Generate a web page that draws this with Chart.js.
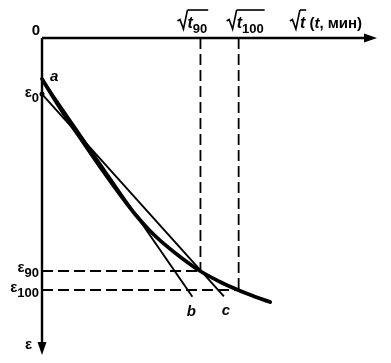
<!DOCTYPE html>
<html>
<head>
<meta charset="utf-8">
<script src="https://cdn.jsdelivr.net/npm/chart.js@4"></script>
<style>
  html, body { margin: 0; padding: 0; background: #fff; }
</style>
</head>
<body>
<canvas id="consolidation-chart" width="391" height="363"></canvas>
<script>
// x = sqrt(t), y = strain eps (grows downwards); units
const curveX = [0, 0.48, 0.99, 1.73, 2.33, 2.78, 3.22, 3.67, 4.12, 4.72, 5.31, 5.85, 6.36, 6.81];
const curveY = [1.29, 2.11, 2.92, 4.06, 4.94, 5.56, 6.08, 6.52, 6.90, 7.35, 7.69, 7.95, 8.16, 8.33];
const lineBX = [0, 4.49];
const lineBY = [1.29, 8.16];
const lineCX = [0, 5.43];
const lineCY = [1.77, 8.15];
const sqrtT90 = 4.73;
const sqrtT100 = 5.87;
const eps0 = 1.77;
const eps90 = 7.35;
const eps100 = 7.95;

const pts = (xs, ys) => xs.map((x, i) => ({ x: x, y: ys[i] }));

const FONT = '"Liberation Sans", Arial, sans-serif';

// draws  √t  with overline, optional subscript; returns end x
function drawRoot(ctx, x, base, sub) {
  ctx.save();
  ctx.lineWidth = 1.6;
  ctx.strokeStyle = '#000';
  ctx.beginPath();
  ctx.moveTo(x, base - 7);
  ctx.lineTo(x + 2.5, base - 8.5);
  ctx.lineTo(x + 6, base + 1);
  ctx.lineTo(x + 10, base - 18);
  ctx.stroke();
  ctx.font = 'italic bold 16px ' + FONT;
  ctx.textAlign = 'left';
  ctx.textBaseline = 'alphabetic';
  ctx.fillText('t', x + 10, base);
  let end = x + 10 + ctx.measureText('t').width;
  if (sub) {
    ctx.font = 'bold 13px ' + FONT;
    ctx.fillText(sub, end, base + 5);
    end += ctx.measureText(sub).width;
  }
  ctx.beginPath();
  ctx.moveTo(x + 10, base - 18);
  ctx.lineTo(end + 1, base - 18);
  ctx.stroke();
  ctx.restore();
  return end;
}

function epsLabel(ctx, right, base, sub) {
  ctx.font = 'bold 13px ' + FONT;
  const sw = ctx.measureText(sub).width;
  ctx.fillText(sub, right - sw, base + 5);
  ctx.font = 'bold 15px ' + FONT;
  const ew = ctx.measureText('ε').width;
  ctx.fillText('ε', right - sw - ew, base);
}

const axesPlugin = {
  id: 'axesPlugin',
  afterDatasetsDraw(chart) {
    const ctx = chart.ctx;
    const xs = chart.scales.x;
    const ys = chart.scales.y;
    const x0 = xs.getPixelForValue(0);
    const y0 = ys.getPixelForValue(0);
    const xEnd = xs.getPixelForValue(10);
    const yEnd = ys.getPixelForValue(10);

    ctx.save();
    ctx.strokeStyle = '#000';
    ctx.fillStyle = '#000';
    ctx.lineWidth = 2.4;
    ctx.beginPath();
    ctx.moveTo(x0, y0);
    ctx.lineTo(xEnd - 8, y0);
    ctx.moveTo(x0, y0);
    ctx.lineTo(x0, yEnd - 8);
    ctx.stroke();
    // arrow heads
    ctx.beginPath();
    ctx.moveTo(xEnd, y0);
    ctx.lineTo(xEnd - 13, y0 - 4.5);
    ctx.lineTo(xEnd - 13, y0 + 4.5);
    ctx.closePath();
    ctx.fill();
    ctx.beginPath();
    ctx.moveTo(x0, yEnd);
    ctx.lineTo(x0 - 4.5, yEnd - 13);
    ctx.lineTo(x0 + 4.5, yEnd - 13);
    ctx.closePath();
    ctx.fill();

    ctx.textBaseline = 'alphabetic';
    ctx.font = 'bold 15px ' + FONT;
    ctx.textAlign = 'center';
    ctx.fillText('0', x0 - 6, y0 - 3);
    ctx.textAlign = 'left';

    const p90 = xs.getPixelForValue(sqrtT90);
    const p100 = xs.getPixelForValue(sqrtT100);
    drawRoot(ctx, p90 - 23, y0 - 10, '90');
    drawRoot(ctx, p100 - 12, y0 - 10, '100');
    const e = drawRoot(ctx, xs.getPixelForValue(7.4), y0 - 10, null);
    ctx.font = 'bold 15px ' + FONT;
    ctx.fillText(' (', e, y0 - 10);
    let cx = e + ctx.measureText(' (').width;
    ctx.font = 'italic bold 15px ' + FONT;
    ctx.fillText('t', cx, y0 - 10);
    cx += ctx.measureText('t').width;
    ctx.font = 'bold 15px ' + FONT;
    ctx.fillText(', мин)', cx, y0 - 10);

    epsLabel(ctx, x0 - 3, ys.getPixelForValue(eps0) + 3, '0');
    epsLabel(ctx, x0 - 3, ys.getPixelForValue(eps90) + 1, '90');
    epsLabel(ctx, x0 - 3, ys.getPixelForValue(eps100) + 2, '100');

    ctx.font = 'bold 15px ' + FONT;
    ctx.fillText('ε', x0 - 17, yEnd - 6);

    ctx.font = 'italic bold 15px ' + FONT;
    ctx.fillText('a', x0 + 8, ys.getPixelForValue(curveY[0]) + 2);
    ctx.textAlign = 'center';
    const bEnd = { x: xs.getPixelForValue(lineBX[1]), y: ys.getPixelForValue(lineBY[1]) };
    const cEnd = { x: xs.getPixelForValue(lineCX[1]), y: ys.getPixelForValue(lineCY[1]) };
    ctx.fillText('b', bEnd.x - 1, bEnd.y + 19);
    ctx.fillText('c', cEnd.x + 2, cEnd.y + 19);
    ctx.restore();
  }
};

const dashStyle = { borderColor: '#000', borderWidth: 1.8, borderDash: [11, 5], pointRadius: 0, showLine: true, clip: false };

new Chart(document.getElementById('consolidation-chart'), {
  type: 'scatter',
  data: {
    datasets: [
      Object.assign({ data: pts([sqrtT90, sqrtT90], [0, eps90]) }, dashStyle),
      Object.assign({ data: pts([sqrtT100, sqrtT100], [0, eps100]) }, dashStyle),
      Object.assign({ data: pts([0, sqrtT90], [eps90, eps90]) }, dashStyle),
      Object.assign({ data: pts([0, sqrtT100], [eps100, eps100]) }, dashStyle),
      {
        data: pts(lineBX, lineBY),
        showLine: true, borderColor: '#000', borderWidth: 1.9, pointRadius: 0, clip: false
      },
      {
        data: pts(lineCX, lineCY),
        showLine: true, borderColor: '#000', borderWidth: 1.9, clip: false,
        pointRadius: [2.5, 0], pointBackgroundColor: '#000', pointBorderWidth: 0
      },
      {
        data: pts(curveX, curveY),
        showLine: true, borderColor: '#000', borderWidth: 3.8, pointRadius: 0,
        tension: 0.4, borderCapStyle: 'round', borderJoinStyle: 'round', clip: false
      }
    ]
  },
  options: {
    responsive: false,
    animation: false,
    layout: { padding: { left: 42, top: 38, right: 14, bottom: 8 } },
    plugins: { legend: { display: false }, tooltip: { enabled: false } },
    scales: {
      x: { type: 'linear', min: 0, max: 10, display: false },
      y: { type: 'linear', min: 0, max: 10, reverse: true, display: false }
    }
  },
  plugins: [axesPlugin]
});
</script>
</body>
</html>
